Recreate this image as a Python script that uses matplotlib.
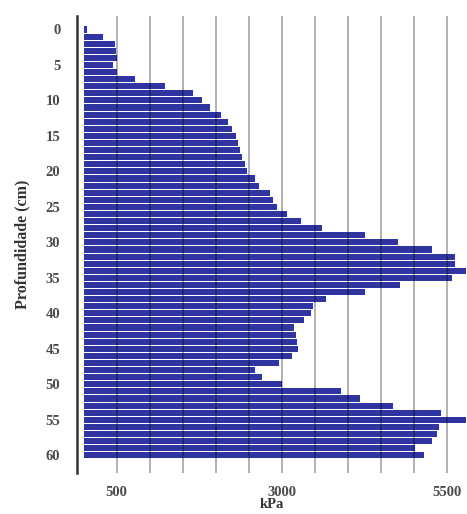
import numpy as np
import matplotlib
matplotlib.use("Agg")
import matplotlib.pyplot as plt

# depth (cm) and resistance (kPa)
depth = list(range(0, 61))
kpa = [
    50, 290, 470, 495, 500, 445, 500, 780, 1230, 1650,
    1790, 1910, 2085, 2185, 2245, 2300, 2330, 2365, 2400, 2440,
    2465, 2600, 2655, 2820, 2870, 2930, 3080, 3290, 3610, 4260,
    4760, 5270, 5620, 5620, 5790, 5580, 4790, 4260, 3665, 3475,
    3435, 3340, 3180, 3210, 3235, 3245, 3150, 2960, 2590, 2700,
    3005, 3900, 4180, 4685, 5400, 5790, 5375, 5340, 5270, 5015,
    5155,
]
grid_vals = list(range(500, 6000, 500))
tick_vals = [500, 3000, 5500]
y_ticks = list(range(0, 61, 5))

plt.rcParams["font.family"] = ["Liberation Serif", "DejaVu Serif"]

fig = plt.figure(figsize=(4.67, 5.14), dpi=100)
ax = fig.add_axes([77 / 467, 1 - 473 / 514, 390 / 467, 457 / 514])

ax.barh(depth, kpa, height=0.86, color="#3034a0", zorder=2)

# vertical grid lines drawn over the bars, like the original
for g in grid_vals:
    ax.axvline(g, color="black", alpha=0.33, lw=1.3, zorder=3)

ax.set_xlim(-100, 5800)
ax.set_ylim(62.5, -1.9)

ax.set_xticks(tick_vals)
ax.set_xticklabels([str(t) for t in tick_vals])
ax.set_yticks(y_ticks)
ax.tick_params(axis="both", length=0, labelsize=10.5, colors="#4a4a4a")
ax.tick_params(axis="x", pad=9)
ax.tick_params(axis="y", pad=12)
for lab in ax.get_xticklabels() + ax.get_yticklabels():
    lab.set_fontweight("bold")

for s in ["top", "right", "bottom"]:
    ax.spines[s].set_visible(False)
ax.spines["left"].set_color("#333333")
ax.spines["left"].set_linewidth(1.8)

ax.set_xlabel("kPa", fontsize=10.5, fontweight="bold", color="#333333", labelpad=0)
ax.set_ylabel("Profundidade (cm)", fontsize=11.5, fontweight="bold", color="#333333", labelpad=11)

fig.savefig("out.png", dpi=100)
